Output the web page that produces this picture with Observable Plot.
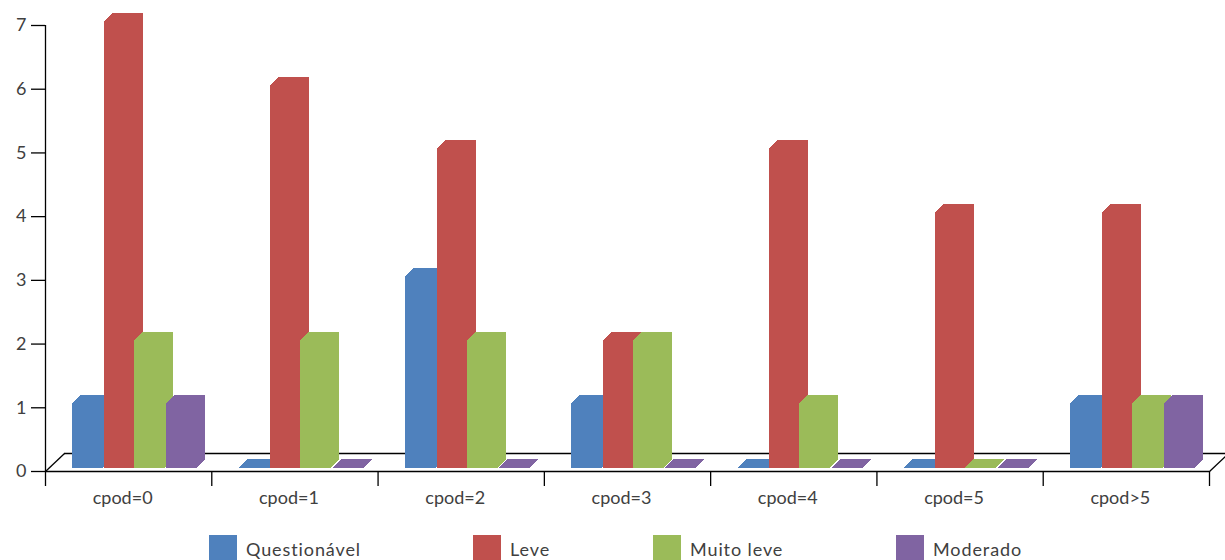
<!DOCTYPE html>
<html><head><meta charset="utf-8">
<script src="https://cdn.jsdelivr.net/npm/d3@7"></script>
<script src="https://cdn.jsdelivr.net/npm/@observablehq/plot@0.6"></script>
<style>
body{margin:0;background:#fff;font-family:Lato,"DejaVu Sans",sans-serif;}
#wrap{position:relative;width:1225px;height:560px;overflow:hidden;}
#wrap svg text{fill:#404040;}
.leg{position:absolute;top:535px;height:28px;display:flex;align-items:center;font-size:18px;color:#404040;white-space:nowrap;letter-spacing:0.9px;}
.leg .sw{width:28px;height:28px;margin-right:9px;display:inline-block;}
</style></head><body><div id="wrap"></div>
<script>
const categories = ["cpod=0","cpod=1","cpod=2","cpod=3","cpod=4","cpod=5","cpod>5"];
const seriesNames = ["Questionável","Leve","Muito leve","Moderado"];
const questionavel = [1,0,3,1,0,0,1];
const leve = [7,6,5,2,5,4,4];
const muitoLeve = [2,2,2,2,1,0,1];
const moderado = [1,0,0,0,0,0,1];
const colors = ["#4F81BD","#C0504D","#9BBB59","#8064A2"];
const yTicks = [0,1,2,3,4,5,6,7];
const legendX = [209,473,653,896];

const seriesValues = [questionavel, leve, muitoLeve, moderado];
const W = 1225, H = 530, ML = 45, MR = 16, MT = 25, MB = 59;
const pxX = (W - ML - MR) / categories.length;   // px per category
const pxY = (H - MT - MB) / 7;                    // px per unit
const off = [0.165, 0.355, 0.535, 0.73];          // bar offset in category units
const fw = 31 / pxX;                              // front width
const depth = 8;

const marks = [];
// floor
marks.push(Plot.ruleY([0], {x1: 0, x2: categories.length, dx: 19, dy: -18, stroke: "#000", strokeWidth: 1.3}));
marks.push(Plot.link([0, categories.length], {x1: d => d, y1: () => 0, x2: d => d + 19 / pxX, y2: () => 18 / pxY, stroke: "#000", strokeWidth: 1.3}));
// bars (extruded by sweeping the front face along the depth diagonal)
seriesValues.forEach((vals, j) => {
  const data = categories.map((c, i) => ({i, v: vals[i]}));
  for (let k = 0; k <= depth; k++) {
    marks.push(Plot.rect(data, {
      x1: d => d.i + off[j], x2: d => d.i + off[j] + fw,
      y1: () => 0, y2: d => d.v,
      dx: k, dy: -3 - k, fill: colors[j], insetTop: -1, shapeRendering: "crispEdges"
    }));
  }
});
marks.push(Plot.ruleY([0], {x1: 0, x2: categories.length, stroke: "#000", strokeWidth: 1.3}));
marks.push(Plot.ruleX([0], {y1: 0, y2: 7, stroke: "#000", strokeWidth: 1.3}));
marks.push(Plot.axisX({ticks: d3.range(categories.length + 1), tickSize: 15, tickFormat: () => "", label: null, stroke: "#000", strokeWidth: 1.3}));
marks.push(Plot.axisY({ticks: yTicks, tickSize: 14, tickPadding: 5, tickFormat: d3.format("d"), label: null, fontSize: 18, stroke: "#000", strokeWidth: 1.3}));
marks.push(Plot.text(categories, {x: (d, i) => i + 0.5, y: () => 0, dy: 27, dx: -6, text: d => d, fontSize: 18, textAnchor: "middle", lineAnchor: "middle", letterSpacing: "2.2px"}));

const chart = Plot.plot({
  width: W, height: H,
  marginLeft: ML, marginRight: MR, marginTop: MT, marginBottom: MB,
  style: {fontFamily: "Lato, 'DejaVu Sans', sans-serif", background: "#fff", overflow: "visible"},
  x: {type: "linear", domain: [0, categories.length]},
  y: {domain: [0, 7]},
  marks
});
const wrap = document.getElementById("wrap");
wrap.appendChild(chart);
seriesNames.forEach((n, j) => {
  const el = document.createElement("div");
  el.className = "leg";
  el.style.left = legendX[j] + "px";
  el.innerHTML = `<span class="sw" style="background:${colors[j]}"></span><span>${n}</span>`;
  wrap.appendChild(el);
});
</script></body></html>
